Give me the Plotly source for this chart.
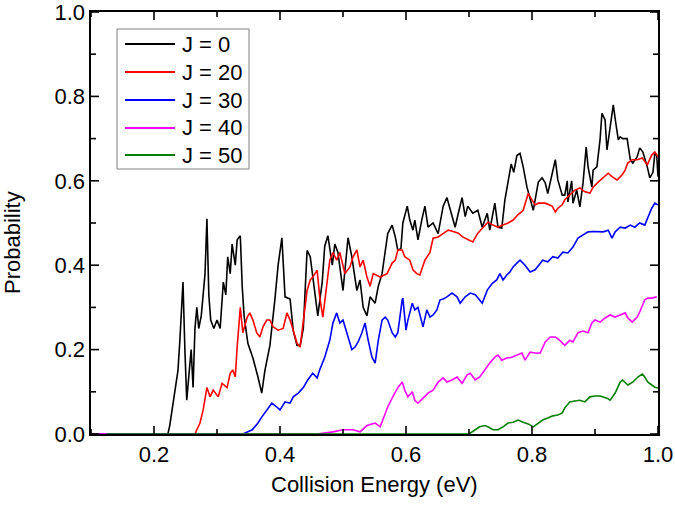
import plotly.graph_objects as go

# ---- data ----
series_names = ["J = 0", "J = 20", "J = 30", "J = 40", "J = 50"]
series_colors = ["#000000", "#ff0000", "#0000ff", "#ff00ff", "#008000"]

energy_j0 = [0.100, 0.222, 0.225, 0.230, 0.235, 0.238, 0.241, 0.244, 0.246, 0.249,
             0.252, 0.256, 0.259, 0.262, 0.265, 0.268, 0.271, 0.275, 0.278, 0.281,
             0.284, 0.287, 0.290, 0.295, 0.300, 0.305, 0.310, 0.314, 0.317, 0.321,
             0.324, 0.329, 0.332, 0.337, 0.340, 0.343, 0.349, 0.357, 0.365, 0.371,
             0.376, 0.384, 0.392, 0.397, 0.403, 0.408, 0.416, 0.421, 0.427, 0.432,
             0.437, 0.443, 0.448, 0.456, 0.460, 0.467, 0.471, 0.476, 0.483, 0.487,
             0.492, 0.500, 0.508, 0.514, 0.522, 0.527, 0.532, 0.538, 0.543, 0.551,
             0.556, 0.562, 0.567, 0.571, 0.578, 0.583, 0.587, 0.592, 0.595, 0.602,
             0.606, 0.611, 0.614, 0.619, 0.625, 0.630, 0.635, 0.643, 0.651, 0.659,
             0.665, 0.673, 0.678, 0.683, 0.689, 0.694, 0.698, 0.706, 0.714, 0.721,
             0.729, 0.733, 0.741, 0.746, 0.752, 0.757, 0.762, 0.767, 0.771, 0.776,
             0.781, 0.786, 0.792, 0.797, 0.802, 0.805, 0.810, 0.816, 0.821, 0.825,
             0.832, 0.837, 0.841, 0.848, 0.852, 0.856, 0.857, 0.863, 0.865, 0.871,
             0.876, 0.881, 0.886, 0.889, 0.895, 0.897, 0.903, 0.908, 0.911, 0.916,
             0.919, 0.924, 0.929, 0.933, 0.937, 0.940, 0.944, 0.951, 0.956, 0.960,
             0.967, 0.971, 0.976, 0.983, 0.987, 0.992, 0.995, 0.998, 1.000]
prob_j0 = [0.000, 0.000, 0.020, 0.070, 0.120, 0.150, 0.220, 0.320, 0.360, 0.200,
           0.080, 0.150, 0.200, 0.110, 0.250, 0.300, 0.250, 0.280, 0.330, 0.380,
           0.510, 0.330, 0.270, 0.250, 0.270, 0.250, 0.360, 0.330, 0.420, 0.380,
           0.450, 0.400, 0.460, 0.470, 0.350, 0.280, 0.215, 0.180, 0.135, 0.097,
           0.150, 0.210, 0.320, 0.400, 0.465, 0.325, 0.320, 0.245, 0.210, 0.210,
           0.250, 0.435, 0.420, 0.325, 0.280, 0.360, 0.445, 0.470, 0.400, 0.450,
           0.430, 0.340, 0.465, 0.420, 0.340, 0.365, 0.300, 0.280, 0.325, 0.310,
           0.350, 0.380, 0.435, 0.475, 0.495, 0.467, 0.435, 0.440, 0.500, 0.540,
           0.507, 0.483, 0.507, 0.460, 0.507, 0.540, 0.490, 0.500, 0.475, 0.540,
           0.560, 0.515, 0.490, 0.523, 0.560, 0.515, 0.540, 0.523, 0.530, 0.490,
           0.523, 0.483, 0.547, 0.490, 0.488, 0.555, 0.600, 0.640, 0.620, 0.660,
           0.665, 0.633, 0.585, 0.555, 0.530, 0.555, 0.597, 0.607, 0.595, 0.570,
           0.618, 0.650, 0.602, 0.566, 0.566, 0.600, 0.550, 0.600, 0.547, 0.578,
           0.538, 0.595, 0.680, 0.633, 0.585, 0.625, 0.633, 0.697, 0.760, 0.744,
           0.673, 0.728, 0.780, 0.737, 0.697, 0.704, 0.700, 0.700, 0.650, 0.642,
           0.657, 0.678, 0.668, 0.633, 0.607, 0.620, 0.665, 0.660, 0.610]

energy_j20 = [0.100, 0.265, 0.268, 0.273, 0.278, 0.284, 0.289, 0.294, 0.302, 0.308,
              0.316, 0.321, 0.325, 0.329, 0.332, 0.337, 0.341, 0.348, 0.352, 0.357,
              0.363, 0.368, 0.373, 0.379, 0.384, 0.389, 0.397, 0.405, 0.411, 0.416,
              0.421, 0.427, 0.432, 0.437, 0.443, 0.448, 0.452, 0.459, 0.463, 0.468,
              0.475, 0.479, 0.484, 0.490, 0.495, 0.503, 0.511, 0.516, 0.522, 0.527,
              0.532, 0.538, 0.543, 0.548, 0.559, 0.570, 0.578, 0.583, 0.587, 0.594,
              0.598, 0.606, 0.611, 0.617, 0.622, 0.630, 0.638, 0.643, 0.651, 0.659,
              0.667, 0.675, 0.683, 0.690, 0.698, 0.706, 0.714, 0.722, 0.730, 0.738,
              0.746, 0.754, 0.762, 0.770, 0.778, 0.786, 0.794, 0.800, 0.805, 0.810,
              0.821, 0.832, 0.837, 0.841, 0.848, 0.852, 0.860, 0.868, 0.876, 0.884,
              0.892, 0.897, 0.905, 0.913, 0.921, 0.927, 0.935, 0.943, 0.948, 0.952,
              0.959, 0.967, 0.975, 0.983, 0.990, 0.995, 1.000]
prob_j20 = [0.000, 0.000, 0.010, 0.026, 0.057, 0.110, 0.088, 0.104, 0.088, 0.120,
            0.110, 0.144, 0.152, 0.135, 0.206, 0.300, 0.240, 0.277, 0.287, 0.270,
            0.240, 0.230, 0.254, 0.270, 0.270, 0.254, 0.246, 0.250, 0.287, 0.270,
            0.246, 0.215, 0.206, 0.263, 0.340, 0.365, 0.372, 0.388, 0.325, 0.277,
            0.357, 0.412, 0.430, 0.412, 0.430, 0.380, 0.396, 0.420, 0.436, 0.396,
            0.412, 0.372, 0.350, 0.380, 0.372, 0.380, 0.405, 0.412, 0.436, 0.436,
            0.420, 0.412, 0.389, 0.380, 0.377, 0.412, 0.430, 0.464, 0.467, 0.476,
            0.483, 0.480, 0.476, 0.467, 0.460, 0.455, 0.476, 0.490, 0.502, 0.495,
            0.490, 0.495, 0.500, 0.507, 0.520, 0.530, 0.570, 0.555, 0.543, 0.547,
            0.547, 0.540, 0.526, 0.535, 0.543, 0.555, 0.566, 0.578, 0.583, 0.574,
            0.571, 0.585, 0.597, 0.607, 0.618, 0.610, 0.602, 0.614, 0.626, 0.642,
            0.650, 0.650, 0.654, 0.638, 0.661, 0.668, 0.657]

energy_j30 = [0.100, 0.341, 0.356, 0.365, 0.371, 0.379, 0.387, 0.395, 0.400, 0.408,
              0.416, 0.421, 0.429, 0.437, 0.444, 0.452, 0.459, 0.463, 0.471, 0.479,
              0.484, 0.490, 0.495, 0.500, 0.506, 0.514, 0.519, 0.524, 0.530, 0.535,
              0.540, 0.546, 0.551, 0.556, 0.562, 0.567, 0.571, 0.578, 0.583, 0.587,
              0.594, 0.595, 0.600, 0.603, 0.610, 0.614, 0.619, 0.625, 0.627, 0.633,
              0.638, 0.643, 0.649, 0.654, 0.659, 0.665, 0.673, 0.681, 0.686, 0.694,
              0.702, 0.710, 0.717, 0.721, 0.729, 0.737, 0.744, 0.749, 0.754, 0.760,
              0.765, 0.770, 0.776, 0.781, 0.789, 0.797, 0.805, 0.817, 0.825, 0.833,
              0.841, 0.849, 0.857, 0.865, 0.873, 0.881, 0.889, 0.897, 0.905, 0.913,
              0.921, 0.927, 0.932, 0.940, 0.948, 0.956, 0.963, 0.971, 0.979, 0.984,
              0.990, 0.995, 1.000]
prob_j30 = [0.000, 0.000, 0.010, 0.026, 0.040, 0.057, 0.073, 0.064, 0.057, 0.076,
            0.073, 0.088, 0.097, 0.110, 0.128, 0.144, 0.133, 0.152, 0.182, 0.222,
            0.263, 0.287, 0.263, 0.270, 0.240, 0.200, 0.206, 0.218, 0.240, 0.263,
            0.222, 0.182, 0.168, 0.222, 0.270, 0.277, 0.270, 0.240, 0.230, 0.240,
            0.318, 0.322, 0.246, 0.270, 0.310, 0.294, 0.300, 0.263, 0.254, 0.294,
            0.277, 0.282, 0.294, 0.318, 0.320, 0.325, 0.334, 0.325, 0.310, 0.325,
            0.334, 0.330, 0.318, 0.310, 0.341, 0.357, 0.365, 0.380, 0.365, 0.377,
            0.384, 0.396, 0.405, 0.412, 0.400, 0.384, 0.389, 0.412, 0.408, 0.420,
            0.417, 0.431, 0.429, 0.443, 0.464, 0.472, 0.479, 0.480, 0.479, 0.479,
            0.483, 0.464, 0.479, 0.490, 0.488, 0.495, 0.490, 0.500, 0.495, 0.512,
            0.535, 0.547, 0.543]

energy_j40 = [0.100, 0.459, 0.484, 0.500, 0.516, 0.527, 0.538, 0.551, 0.559, 0.563,
              0.571, 0.579, 0.587, 0.594, 0.598, 0.603, 0.610, 0.614, 0.619, 0.627,
              0.635, 0.643, 0.651, 0.659, 0.665, 0.673, 0.681, 0.689, 0.697, 0.702,
              0.710, 0.717, 0.725, 0.733, 0.741, 0.746, 0.752, 0.760, 0.768, 0.776,
              0.784, 0.789, 0.797, 0.805, 0.813, 0.821, 0.829, 0.837, 0.844, 0.852,
              0.860, 0.865, 0.873, 0.881, 0.889, 0.895, 0.900, 0.908, 0.916, 0.924,
              0.932, 0.940, 0.948, 0.952, 0.959, 0.967, 0.971, 0.979, 0.984, 0.990,
              0.998]
prob_j40 = [0.000, 0.000, 0.005, 0.010, 0.010, 0.005, 0.020, 0.026, 0.017, 0.033,
            0.064, 0.088, 0.110, 0.123, 0.104, 0.088, 0.100, 0.080, 0.073, 0.085,
            0.097, 0.104, 0.123, 0.133, 0.123, 0.128, 0.135, 0.120, 0.140, 0.144,
            0.128, 0.135, 0.152, 0.168, 0.182, 0.187, 0.175, 0.180, 0.182, 0.187,
            0.192, 0.175, 0.194, 0.192, 0.192, 0.218, 0.230, 0.230, 0.222, 0.210,
            0.222, 0.218, 0.240, 0.244, 0.240, 0.263, 0.270, 0.265, 0.275, 0.282,
            0.277, 0.282, 0.287, 0.275, 0.265, 0.277, 0.289, 0.318, 0.322, 0.322,
            0.325]

energy_j50 = [0.125, 0.700, 0.710, 0.717, 0.725, 0.730, 0.738, 0.746, 0.754, 0.762,
              0.770, 0.778, 0.786, 0.794, 0.802, 0.810, 0.817, 0.825, 0.833, 0.841,
              0.848, 0.852, 0.860, 0.868, 0.876, 0.884, 0.892, 0.900, 0.908, 0.919,
              0.924, 0.932, 0.940, 0.944, 0.952, 0.960, 0.968, 0.975, 0.979, 0.984,
              0.990, 0.995, 1.000]
prob_j50 = [0.000, 0.000, 0.010, 0.017, 0.020, 0.017, 0.010, 0.010, 0.017, 0.026,
            0.028, 0.033, 0.028, 0.024, 0.017, 0.026, 0.033, 0.038, 0.043, 0.045,
            0.050, 0.062, 0.076, 0.078, 0.080, 0.076, 0.088, 0.090, 0.090, 0.085,
            0.080, 0.097, 0.123, 0.128, 0.116, 0.123, 0.135, 0.142, 0.135, 0.123,
            0.116, 0.111, 0.109]

energies = [energy_j0, energy_j20, energy_j30, energy_j40, energy_j50]
probabilities = [prob_j0, prob_j20, prob_j30, prob_j40, prob_j50]

x_title = "Collision Energy (eV)"
y_title = "Probability"
x_tick_values = [0.2, 0.4, 0.6, 0.8, 1.0]
x_tick_labels = ["0.2", "0.4", "0.6", "0.8", "1.0"]
x_minor_values = [0.1, 0.3, 0.5, 0.7, 0.9]
y_tick_values = [0.0, 0.2, 0.4, 0.6, 0.8, 1.0]
y_tick_labels = ["0.0", "0.2", "0.4", "0.6", "0.8", "1.0"]
y_minor_values = [0.1, 0.3, 0.5, 0.7, 0.9]

# ---- layout geometry (pixels) ----
W, H = 675, 507
M_L, M_R, M_T, M_B = 91, 17, 12, 73
PW, PH = W - M_L - M_R, H - M_T - M_B
MAJOR_LEN, MINOR_LEN = 8, 5


def px_x(px):
    return (px - M_L) / PW


def px_y(py):
    return (H - M_B - py) / PH


FONT = "Arial, 'Liberation Sans', sans-serif"

fig = go.Figure()
for name, color, xs, ys in zip(series_names, series_colors, energies, probabilities):
    fig.add_trace(go.Scatter(x=xs, y=ys, mode="lines", name=name,
                             line=dict(color=color, width=1.6)))

axis_common = dict(
    showline=True, linecolor="black", linewidth=1.6, mirror=True,
    ticks="", showgrid=False, zeroline=False, automargin=False,
    ticklabeloverflow="allow",
    tickfont=dict(family=FONT, size=22, color="black"),
)

shapes = []
tick_line = dict(color="black", width=1.6)
# inward tick marks on all four sides, placed at the axis tick values
for values, length in [(x_tick_values, MAJOR_LEN), (x_minor_values, MINOR_LEN)]:
    for v in values:
        shapes.append(dict(type="line", xref="x", yref="paper", x0=v, x1=v,
                           y0=0, y1=length / PH, line=tick_line, layer="above"))
        shapes.append(dict(type="line", xref="x", yref="paper", x0=v, x1=v,
                           y0=1, y1=1 - length / PH, line=tick_line, layer="above"))
for values, length in [(y_tick_values, MAJOR_LEN), (y_minor_values, MINOR_LEN)]:
    for v in values:
        shapes.append(dict(type="line", xref="paper", yref="y", y0=v, y1=v,
                           x0=0, x1=length / PW, line=tick_line, layer="above"))
        shapes.append(dict(type="line", xref="paper", yref="y", y0=v, y1=v,
                           x0=1, x1=1 - length / PW, line=tick_line, layer="above"))

# legend box drawn as a framed key (line samples + real text labels)
shapes.append(dict(type="rect", xref="paper", yref="paper",
                   x0=px_x(117), x1=px_x(249), y0=px_y(169), y1=px_y(29),
                   line=dict(color="#808080", width=1), fillcolor="white",
                   layer="above"))
annotations = []
legend_rows = [44, 72, 100, 128, 155]
for name, color, row in zip(series_names, series_colors, legend_rows):
    shapes.append(dict(type="line", xref="paper", yref="paper",
                       x0=px_x(125), x1=px_x(175), y0=px_y(row), y1=px_y(row),
                       line=dict(color=color, width=1.8), layer="above"))
    annotations.append(dict(text=name, xref="paper", yref="paper",
                            x=px_x(180), y=px_y(row), xanchor="left", yanchor="middle",
                            showarrow=False,
                            font=dict(family=FONT, size=22, color="black")))

annotations += [
    dict(text=x_title, xref="paper", yref="paper", x=0.5, y=px_y(484),
         xanchor="center", yanchor="middle", showarrow=False,
         font=dict(family=FONT, size=22, color="black")),
    dict(text=y_title, xref="paper", yref="paper", x=px_x(12), y=px_y(243),
         xanchor="center", yanchor="middle", showarrow=False, textangle=-90,
         font=dict(family=FONT, size=22, color="black")),
]

fig.update_layout(
    width=W, height=H,
    margin=dict(l=M_L, r=M_R, t=M_T, b=M_B, autoexpand=False),
    paper_bgcolor="white", plot_bgcolor="white",
    font=dict(family=FONT, size=22, color="black"),
    xaxis=dict(range=[0.1, 1.0], tickmode="array",
               tickvals=x_tick_values, ticktext=x_tick_labels, **axis_common),
    yaxis=dict(range=[0.0, 1.0], tickmode="array",
               tickvals=y_tick_values, ticktext=y_tick_labels,
               ticklabelstandoff=0, **axis_common),
    showlegend=False,
    shapes=shapes,
    annotations=annotations,
)

fig.write_html("out.html",
               config={"displayModeBar": False, "staticPlot": True},
               post_script="document.body.style.margin='0px';"
                           "document.body.style.overflow='hidden';")
